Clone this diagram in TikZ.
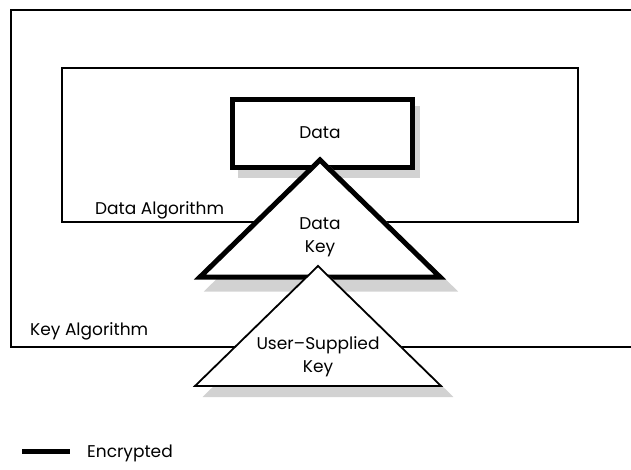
\documentclass[tikz,border=0pt]{standalone}
\usepackage{fontspec}
\setmainfont{Poppins}
\begin{document}
\begin{tikzpicture}[x=1pt,y=-1pt,
  box/.style={draw=black,line width=1.8pt},
  shade/.style={fill=shadowgray,draw=shadowgray},
  lbl/.style={inner sep=0pt,font=\fontsize{17}{23}\selectfont,align=center}]
\definecolor{shadowgray}{RGB}{210,210,210}
\useasboundingbox (0,0) rectangle (631,470);
% outer key algorithm box
\draw[box] (11,10) rectangle (650,347);
% inner data algorithm box
\draw[box] (62,68) rectangle (578,222);
% data box
\fill[shadowgray] (238,106) rectangle (420,178);
\draw[line width=5pt,fill=white] (232,100) rectangle (412,168);
% data key triangle
\draw[shade,line width=5pt,line join=miter] (330,170) -- (452,289) -- (210,289) -- cycle;
\draw[line width=5pt,fill=white,line join=miter] (320,160) -- (440,277) -- (200,277) -- cycle;
% user supplied key triangle
\draw[shade,line width=2pt,line join=miter] (328,276) -- (451,396) -- (205,396) -- cycle;
\draw[line width=1.8pt,fill=white,line join=miter] (318,266) -- (441,386) -- (195,386) -- cycle;
% labels
\node[lbl] (data) at (320,133) {Data};
\node[lbl] (datakey) at (320,237) {Data\\Key};
\node[lbl] (userkey) at (318,357) {User–Supplied\\Key};
\node[lbl,anchor=west] (dalg) at (95,210) {Data Algorithm};
\node[lbl,anchor=west] (kalg) at (30,331) {Key Algorithm};
% legend
\coordinate (la) at (22,451);
\coordinate (lb) at (70,451);
\draw[line width=5pt] (la) -- (lb);
\node[lbl,anchor=west] (enc) at (87,453) {Encrypted};
\end{tikzpicture}
\end{document}
